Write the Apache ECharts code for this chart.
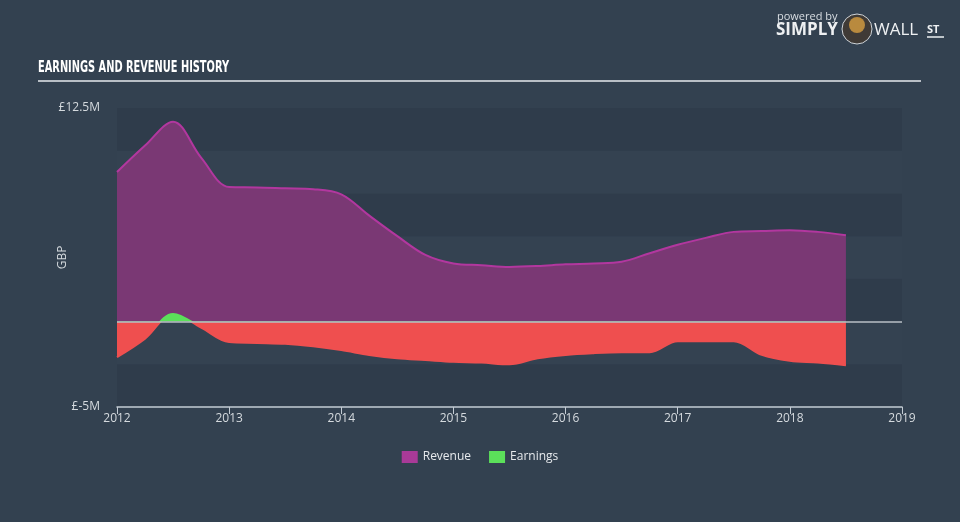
<!DOCTYPE html>
<html>
<head>
<meta charset="utf-8">
<script src="https://cdn.jsdelivr.net/npm/echarts@6/dist/echarts.min.js"></script>
<style>
html,body{margin:0;padding:0;background:#334150;}
#chart{width:960px;height:522px;}
</style>
</head>
<body>
<div id="chart"></div>
<script>
// Quarterly time points (fractional years)
const periods = [2012.0,2012.25,2012.5,2012.75,2013.0,2013.25,2013.5,2013.75,2014.0,2014.25,2014.5,2014.75,2015.0,2015.25,2015.5,2015.75,2016.0,2016.25,2016.5,2016.75,2017.0,2017.25,2017.5,2017.75,2018.0,2018.25,2018.5];
// Values in GBP millions
const revenue = [8.75,10.3,11.7,9.6,7.87,7.85,7.8,7.75,7.45,6.2,5.0,3.9,3.4,3.3,3.2,3.25,3.35,3.4,3.5,4.0,4.5,4.9,5.25,5.3,5.35,5.25,5.05];
const earnings = [-2.08,-1.0,0.45,-0.35,-1.2,-1.25,-1.3,-1.45,-1.67,-1.95,-2.15,-2.25,-2.35,-2.4,-2.5,-2.15,-1.95,-1.85,-1.8,-1.8,-1.15,-1.15,-1.15,-1.95,-2.3,-2.4,-2.55];
const xTicks = [2012,2013,2014,2015,2016,2017,2018,2019];
const yTickLabels = {"12.5":"£12.5M","-5":"£-5M"};
const titleText = 'EARNINGS AND REVENUE HISTORY';

const titleFont = 'bold 16px "DejaVu Sans Condensed"';
const cv = document.createElement('canvas').getContext('2d');
cv.font = titleFont;
const titleScale = 191 / cv.measureText(titleText).width;

const chart = echarts.init(document.getElementById('chart'));
const pair = (arr) => periods.map((p,i)=>[p,arr[i]]);

chart.setOption({
  backgroundColor:'#334150',
  animation:false,
  textStyle:{fontFamily:'Open Sans'},
  grid:{left:117,right:58,top:108,bottom:115},
  legend:{bottom:54,left:'center',itemWidth:16,itemHeight:12,itemGap:18,icon:'rect',
    textStyle:{color:'#e6e9ec',fontSize:12},
    data:[{name:'Revenue',itemStyle:{color:'#a93a98'}},{name:'Earnings',itemStyle:{color:'#5be05a'}}]},
  graphic:[
    {type:'text',x:38,y:60,scaleX:titleScale,style:{text:titleText,fill:'#ffffff',font:titleFont}},
    {type:'line',shape:{x1:38,y1:81,x2:921,y2:81},style:{stroke:'#b9bfc6',lineWidth:2}},
    {type:'text',left:777,top:11,style:{text:'powered by',fill:'#d8dde2',font:'11px "Open Sans"'}},
    {type:'text',left:776,top:22,style:{text:'SIMPLY',fill:'#eef0f2',font:'bold 17px "Open Sans"'}},
    {type:'circle',shape:{cx:857,cy:29,r:15},style:{fill:'#3f3a36',stroke:'#cfd4d9',lineWidth:1}},
    {type:'circle',shape:{cx:857,cy:25,r:8},style:{fill:'#b98a3e'}},
    {type:'text',left:874,top:22,style:{text:'WALL',fill:'#eef0f2',font:'17px "Open Sans"'}},
    {type:'text',left:927,top:24,style:{text:'ST',fill:'#eef0f2',font:'bold 11px "Open Sans"'}},
    {type:'line',shape:{x1:927,y1:37,x2:944,y2:37},style:{stroke:'#eef0f2',lineWidth:1.5}}
  ],
  xAxis:{type:'value',min:xTicks[0],max:xTicks[xTicks.length-1],interval:1,
    axisLine:{show:true,onZero:false,lineStyle:{color:'#c3cbd3',width:1.5}},
    axisTick:{show:true,length:7,lineStyle:{color:'#c3cbd3'}},
    axisLabel:{color:'#d5dade',fontSize:12,margin:6,formatter:v=>String(v)},
    splitLine:{show:false}},
  yAxis:{type:'value',min:-5,max:12.5,interval:2.5,
    name:'GBP',nameLocation:'middle',nameGap:48,nameRotate:90,nameMoveOverlap:false,
    nameTextStyle:{color:'#d5dade',fontSize:12},
    axisLine:{show:false},axisTick:{show:false},
    axisLabel:{color:'#d5dade',fontSize:12,margin:17,
      formatter:v=>yTickLabels[String(v)]||''},
    splitLine:{show:false},
    splitArea:{show:true,areaStyle:{color:['#2f3c4b','#344251']}}},
  visualMap:{show:false,seriesIndex:1,dimension:1,
    pieces:[{min:-5,max:0,color:'#ef4f4f'},{min:0,max:12.5,color:'#5be05a'}]},
  series:[
    {name:'Revenue',type:'line',data:pair(revenue),smooth:0.35,showSymbol:false,
      lineStyle:{color:'#b2379f',width:2},itemStyle:{color:'#a93a98'},
      areaStyle:{color:'#7a3874',opacity:1}},
    {name:'Earnings',type:'line',data:pair(earnings),smooth:0.35,showSymbol:false,
      lineStyle:{width:2},itemStyle:{color:'#5be05a'},
      areaStyle:{opacity:1},
      markLine:{silent:true,symbol:'none',label:{show:false},
        lineStyle:{color:'#b9bfc6',width:1.5,type:'solid'},data:[{yAxis:0}]}}
  ]
});
</script>
</body>
</html>
